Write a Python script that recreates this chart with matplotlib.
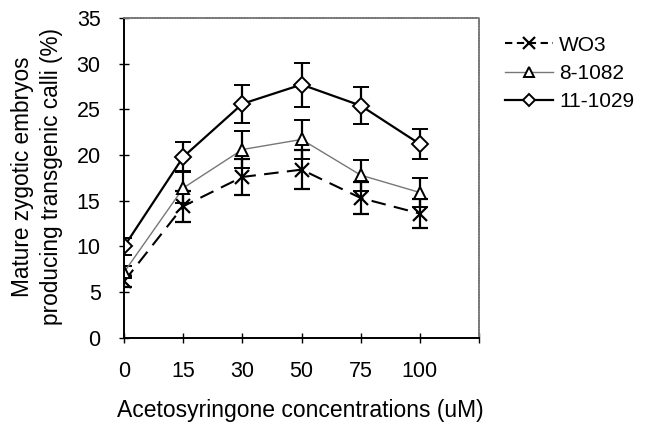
import matplotlib
matplotlib.use("Agg")
import matplotlib.pyplot as plt
from matplotlib.lines import Line2D

plt.rcParams['font.family'] = ['Liberation Sans', 'DejaVu Sans']

concentrations = ["0", "15", "30", "50", "75", "100"]

wo3 = [6.2, 14.4, 17.6, 18.4, 15.3, 13.6]
wo3_err = [0.6, 1.7, 2.0, 2.1, 1.8, 1.6]

l8_1082 = [7.2, 16.4, 20.6, 21.7, 17.8, 15.9]
l8_1082_err = [0.7, 1.7, 2.0, 2.1, 1.7, 1.6]

l11_1029 = [10.0, 19.8, 25.6, 27.7, 25.4, 21.2]
l11_1029_err = [0.9, 1.6, 2.1, 2.4, 2.0, 1.6]

fig = plt.figure(figsize=(6.57, 4.24), dpi=100)
ax = fig.add_axes([0.189, 0.203, 0.540, 0.755])

x = list(range(len(concentrations)))

wo3_style = dict(color="black", linestyle=(0, (7, 4)), lw=1.5, marker="x",
                 markeredgewidth=1.6)
l8_style = dict(color="#777777", linestyle="-", lw=1.0, marker="^",
                markerfacecolor="white", markeredgecolor="black", markeredgewidth=1.4)
l11_style = dict(color="black", linestyle="-", lw=1.6, marker="D",
                 markerfacecolor="white", markeredgecolor="black", markeredgewidth=1.4)
err_style = dict(ecolor="black", capsize=5.5, elinewidth=1.6, capthick=1.6)

ax.errorbar(x, wo3, yerr=wo3_err, markersize=10, **wo3_style, **err_style)
ax.errorbar(x, l8_1082, yerr=l8_1082_err, markersize=9, **l8_style, **err_style)
ax.errorbar(x, l11_1029, yerr=l11_1029_err, markersize=8, **l11_style, **err_style)

ax.set_xlim(0, 6)
ax.set_ylim(0, 35)
ax.set_xticks(range(7))
ax.set_xticklabels(concentrations + [""])
ax.set_yticks(range(0, 36, 5))
ax.tick_params(direction="inout", length=7, width=1, labelsize=15.5)
ax.tick_params(axis="x", pad=13)
ax.tick_params(axis="y", pad=13.5)

for side in ["left", "bottom"]:
    ax.spines[side].set_linewidth(1.4)
    ax.spines[side].set_color("black")
for side in ["top", "right"]:
    ax.spines[side].set_linewidth(1.3)
    ax.spines[side].set_color("#777777")
    ax.spines[side].set_linestyle((0, (1, 0.6)))

ax.set_xlabel("Acetosyringone concentrations (uM)", fontsize=16.5)
ax.xaxis.set_label_coords(0.496, -0.19)
ax.set_ylabel("Mature zygotic embryos\nproducing transgenic calli (%)", fontsize=16.3,
              linespacing=1.35)
ax.yaxis.set_label_coords(-0.172, 0.505)

wo3_leg = dict(wo3_style, linestyle=(0, (3.5, 2.2)))
handles = [
    Line2D([], [], markersize=8, **wo3_leg),
    Line2D([], [], markersize=7, **l8_style),
    Line2D([], [], markersize=6, **l11_style),
]
labels = ["WO3", "8-1082", "11-1029"]
ax.legend(handles, labels, loc="upper left", bbox_to_anchor=(1.05, 0.97),
          frameon=False, fontsize=15, handlelength=2.3, handletextpad=0.3,
          labelspacing=0.45, borderaxespad=0)

fig.savefig("out.png", dpi=100)
